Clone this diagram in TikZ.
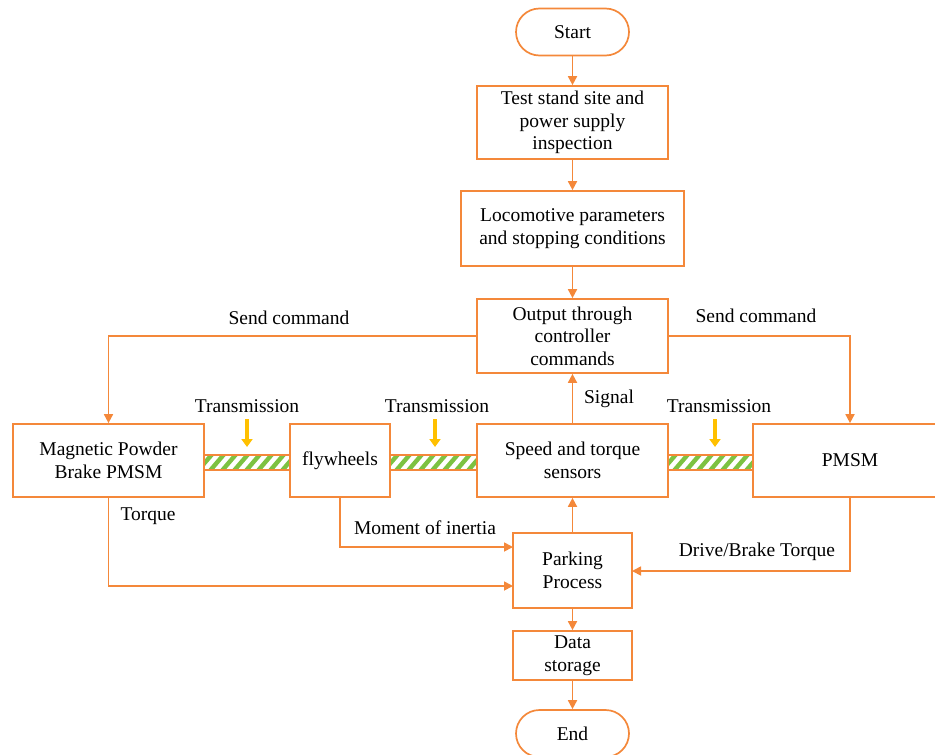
\documentclass[tikz,border=0pt]{standalone}
\usepackage{fontspec}
\setmainfont{Liberation Serif}
\usetikzlibrary{arrows.meta}
\definecolor{org}{HTML}{F4883A}
\definecolor{grn}{HTML}{7DC242}
\definecolor{gld}{HTML}{FFC000}
\begin{document}
\begin{tikzpicture}[x=1pt,y=-1pt,
  txt/.style={font=\fontsize{19.5}{22.5}\selectfont, inner sep=0pt},
  box/.style={txt, draw=org, line width=1.7pt, fill=white, align=center},
  arr/.style={draw=org, line width=1.7pt, -{Triangle[length=9pt,width=9pt]}},
  gold/.style={draw=gld, line width=3.2pt, -{Triangle[length=8pt,width=11pt]}}]
\useasboundingbox (0,0) rectangle (935,755);
% transmission bars
\foreach \xa/\xb in {204/290, 390/477, 668/753} {
  \begin{scope}
    \clip (\xa,455) rectangle (\xb,470);
    \foreach \i in {-20,-8,...,100} \draw[grn, line width=4.4pt] (\xa+\i,473) -- (\xa+\i+18,452);
  \end{scope}
  \draw[org, line width=1.7pt] (\xa,455) rectangle (\xb,470);
}
% nodes
\node[box, minimum width=113, minimum height=47, rounded corners=23.5] (start) at (572.5,32) {Start};
\node[box, minimum width=191, minimum height=73] (test) at (572.5,122.5) {Test stand site and\\power supply\\inspection};
\node[box, minimum width=223, minimum height=75] (loco) at (572.5,228.5) {Locomotive parameters\\and stopping conditions};
\node[box, minimum width=191, minimum height=74] (out) at (572.5,336) {Output through\\controller\\commands};
\node[box, minimum width=191, minimum height=73] (sens) at (572.5,460.5) {Speed and torque\\sensors};
\node[box, minimum width=191, minimum height=73] (mag) at (108.5,460.5) {Magnetic Powder\\Brake PMSM};
\node[box, minimum width=100, minimum height=73] (fly) at (340,460.5) {flywheels};
\node[box, minimum width=194, minimum height=73] (pmsm) at (850,460.5) {PMSM};
\node[box, minimum width=119, minimum height=75] (park) at (572.5,570.5) {Parking\\Process};
\node[box, minimum width=119, minimum height=49] (data) at (572.5,655.5) {Data\\storage};
\node[box, minimum width=113, minimum height=47, rounded corners=23.5] (end) at (572.5,733.5) {End};
% connectors
\draw[arr] (start) -- (test);
\draw[arr] (test) -- (loco);
\draw[arr] (loco) -- (out);
\draw[arr] (out.west) -| (mag.north);
\draw[arr] (out.east) -| (pmsm.north);
\draw[arr] (sens) -- (out);
\draw[arr] (park) -- (sens);
\draw[arr] (park) -- (data);
\draw[arr] (data) -- (end);
\coordinate (p1) at (513,547);
\coordinate (p2) at (513,586);
\coordinate (p3) at (632,571);
\draw[arr] (mag.south) |- (p2);
\draw[arr] (fly.south) |- (p1);
\draw[arr] (pmsm.south) |- (p3);
% gold arrows
\coordinate (g1s) at (247,419); \coordinate (g1e) at (247,447);
\coordinate (g2s) at (435,419); \coordinate (g2e) at (435,447);
\coordinate (g3s) at (715,419); \coordinate (g3e) at (715,447);
\draw[gold] (g1s) -- (g1e);
\draw[gold] (g2s) -- (g2e);
\draw[gold] (g3s) -- (g3e);
% labels
\node[txt] (l1) at (289,318) {Send command};
\node[txt] (l2) at (756,316) {Send command};
\node[txt] (l3) at (247,406) {Transmission};
\node[txt] (l4) at (437,406) {Transmission};
\node[txt] (l5) at (719,406) {Transmission};
\node[txt] (l6) at (609,399) {Signal};
\node[txt] (l7) at (148,516) {Torque};
\node[txt] (l8) at (425,528) {Moment of inertia};
\node[txt] (l9) at (757,552) {Drive/Brake Torque};
\end{tikzpicture}
\end{document}
